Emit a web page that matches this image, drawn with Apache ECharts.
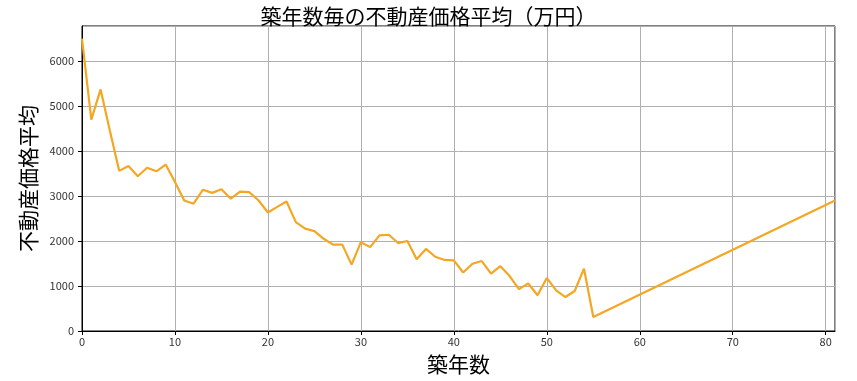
<!DOCTYPE html>
<html>
<head>
<meta charset="utf-8">
<script src="https://cdn.jsdelivr.net/npm/echarts@6/dist/echarts.min.js"></script>
<style>html,body{margin:0;padding:0;background:#fff}#c{width:857px;height:381px}</style>
</head>
<body>
<div id="c"></div>
<script>
const years = [0,1,2,3,4,5,6,7,8,9,10,11,12,13,14,15,16,17,18,19,20,21,22,23,24,25,26,27,28,29,30,31,32,33,34,35,36,37,38,39,40,41,42,43,44,45,46,47,48,49,50,51,52,53,54,55,81];
const prices = [6500,4700,5370,4450,3560,3670,3440,3630,3550,3700,3310,2900,2830,3140,3070,3150,2940,3100,3085,2900,2635,2760,2880,2420,2275,2220,2050,1920,1920,1475,1975,1865,2125,2140,1955,2000,1595,1825,1650,1580,1570,1300,1495,1555,1275,1440,1220,930,1055,795,1180,905,755,890,1385,310,2900];
const titleText = '築年数毎の不動産価格平均（万円）';
const xName = '築年数';
const yName = '不動産価格平均';

const chart = echarts.init(document.getElementById('c'), null, {renderer: 'canvas'});
const jp = '"Noto Sans CJK JP", sans-serif';
chart.setOption({
  animation: false,
  title: {
    text: titleText, left: 'center', top: 1,
    textStyle: {fontFamily: jp, fontSize: 21, fontWeight: 'normal', color: '#000'}
  },
  grid: {left: 82, right: 22, top: 26, bottom: 50, show: true, borderColor: '#000', borderWidth: 1, backgroundColor: 'transparent'},
  xAxis: {
    type: 'value', min: 0, max: 81, interval: 10,
    name: xName, nameLocation: 'middle', nameGap: 23,
    nameTextStyle: {fontFamily: jp, fontSize: 21, color: '#000'},
    axisLine: {show: true, onZero: false, lineStyle: {color: '#000', width: 1}},
    axisTick: {show: true, length: 4, lineStyle: {color: '#000'}},
    axisLabel: {showMaxLabel: false, margin: 5, fontFamily: jp, fontSize: 11, color: '#333', formatter: v => String(v)},
    splitLine: {show: true, lineStyle: {color: '#b0b0b0', width: 1}}
  },
  yAxis: {
    type: 'value', min: 0, max: 6780, interval: 1000,
    name: yName, nameLocation: 'middle', nameGap: 41, nameRotate: 90,
    nameTextStyle: {fontFamily: jp, fontSize: 21, color: '#000'},
    axisLine: {show: true, lineStyle: {color: '#000', width: 1}},
    axisTick: {show: true, length: 4, lineStyle: {color: '#000'}},
    axisLabel: {showMaxLabel: false, margin: 8, fontFamily: jp, fontSize: 11, color: '#333', formatter: v => String(v)},
    splitLine: {show: true, lineStyle: {color: '#b0b0b0', width: 1}}
  },
  series: [{
    type: 'line',
    data: years.map((y, i) => [y, prices[i]]),
    showSymbol: false, symbol: 'none',
    lineStyle: {color: '#f5a623', width: 2.2},
    itemStyle: {color: '#f5a623'}
  }]
});
</script>
</body>
</html>
